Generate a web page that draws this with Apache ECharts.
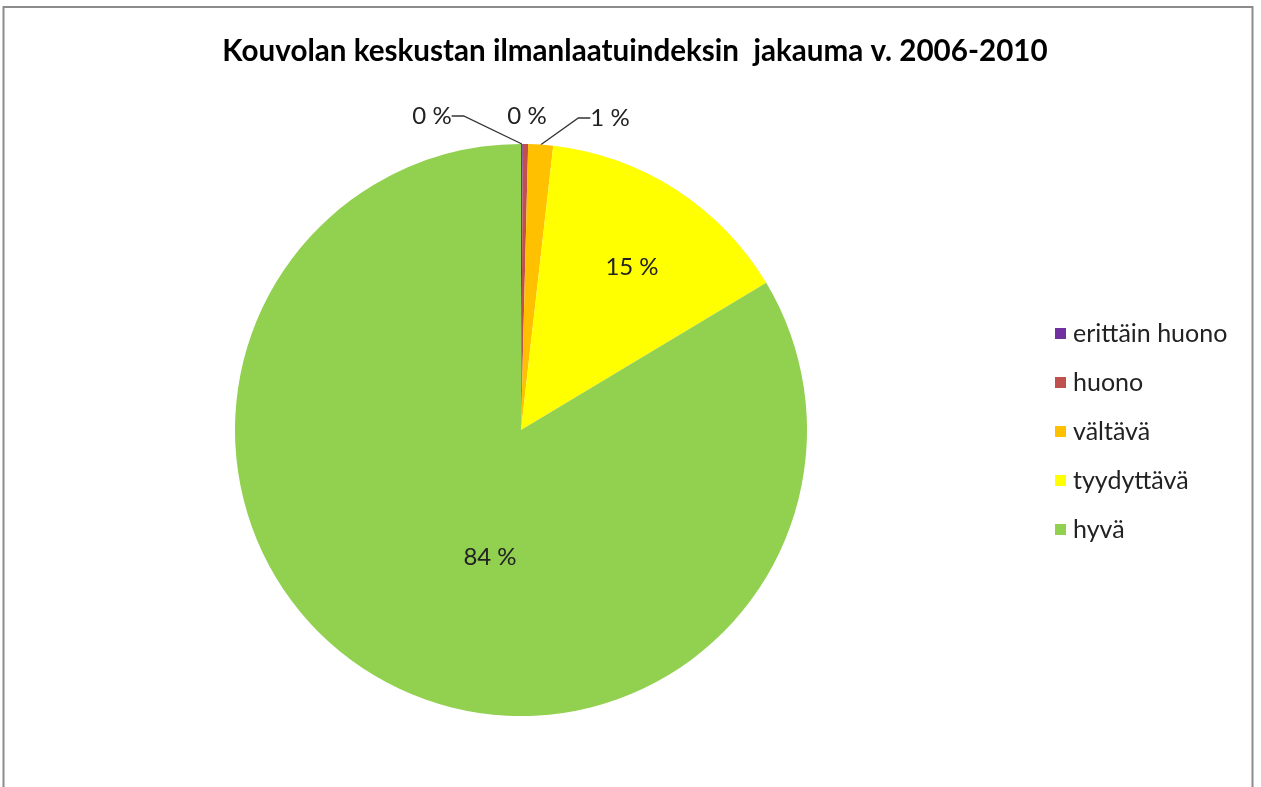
<!DOCTYPE html>
<html>
<head>
<meta charset="utf-8">
<script src="https://cdn.jsdelivr.net/npm/echarts@6/dist/echarts.min.js"></script>
<style>html,body{margin:0;padding:0;background:#fff}#c{width:1261px;height:787px}</style>
</head>
<body>
<div id="c"></div>
<script>
const titleText = 'Kouvolan keskustan ilmanlaatuindeksin  jakauma v. 2006-2010';
const categories = ['erittäin huono', 'huono', 'vältävä', 'tyydyttävä', 'hyvä'];
const values = [0.1, 0.3, 1.4, 14.6, 83.6];
const colors = ['#7030A0', '#C0504D', '#FFC000', '#FFFF00', '#92D050'];
const insideLabel = [false, false, false, true, true];

const CX = 521, CY = 430, R = 286;
// label anchor offsets relative to the pie centre (Excel-like placement)
const labelOffsets = [[-89, -314], [6, -314], [89, -312], [111, -163], [-31, 127]];

const chart = echarts.init(document.getElementById('c'), null, {renderer: 'canvas'});
const data = categories.map((n, i) => ({
  name: n,
  value: values[i],
  itemStyle: {color: colors[i]},
  label: insideLabel[i] ? {position: 'inside'} : {position: 'outside'},
  labelLine: {show: !insideLabel[i] && i !== 1}
}));
chart.setOption({
  animation: false,
  backgroundColor: '#fff',
  graphic: [{
    type: 'rect', shape: {x: 3.5, y: 7, width: 1249, height: 800},
    style: {fill: 'none', stroke: '#8c8c8c', lineWidth: 2}, silent: true
  }],
  title: {
    text: titleText, left: 630, top: 31, textAlign: 'center',
    textStyle: {fontFamily: 'Lato', fontWeight: 'bold', fontSize: 29.6, color: '#000'}
  },
  legend: {
    orient: 'vertical', left: 1050, top: 316,
    itemWidth: 11, itemHeight: 11, itemGap: 24,
    icon: 'rect',
    textStyle: {fontFamily: 'Lato', fontSize: 25, color: '#222', lineHeight: 20, padding: [0, 0, 0, 2]},
    data: categories
  },
  series: [{
    type: 'pie',
    center: [CX, CY],
    radius: [0, R],
    startAngle: 90,
    clockwise: true,
    avoidLabelOverlap: false,
    label: {
      formatter: p => Math.round(p.percent) + ' %',
      fontFamily: 'Lato', fontSize: 24, color: '#222'
    },
    labelLine: {length: 14, length2: 12, lineStyle: {color: '#333', width: 1.3}},
    labelLayout: p => ({
      x: CX + labelOffsets[p.dataIndex][0],
      y: CY + labelOffsets[p.dataIndex][1],
      align: 'center', verticalAlign: 'middle'
    }),
    itemStyle: {borderWidth: 0},
    emphasis: {disabled: true},
    data: data
  }]
});
</script>
</body>
</html>
